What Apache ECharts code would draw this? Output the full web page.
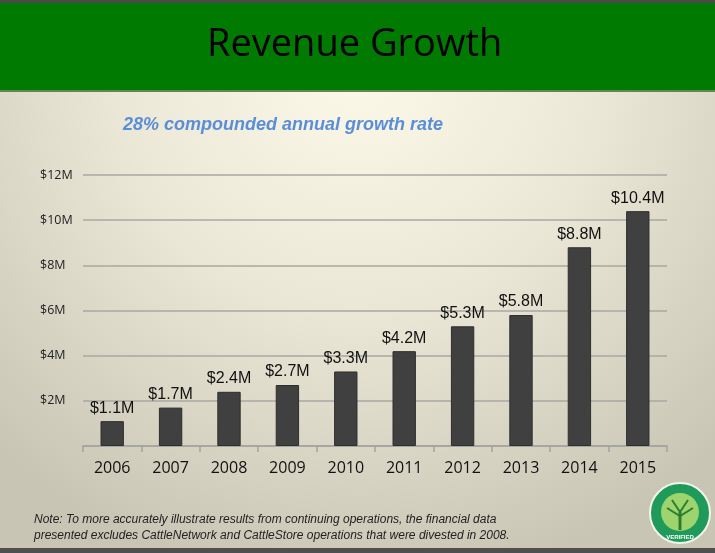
<!DOCTYPE html>
<html>
<head>
<meta charset="utf-8">
<script src="https://cdn.jsdelivr.net/npm/echarts@6/dist/echarts.min.js"></script>
<style>html,body{margin:0;padding:0;background:#fff}#c{width:715px;height:553px}</style>
</head>
<body>
<div id="c"></div>
<script>
const years = ['2006','2007','2008','2009','2010','2011','2012','2013','2014','2015'];
const revenue = [1.1, 1.7, 2.4, 2.7, 3.3, 4.2, 5.3, 5.8, 8.8, 10.4];
const valueLabels = ['$1.1M','$1.7M','$2.4M','$2.7M','$3.3M','$4.2M','$5.3M','$5.8M','$8.8M','$10.4M'];
const yTicks = [0, 2, 4, 6, 8, 10, 12];
const titleText = 'Revenue Growth';
const subtitleText = '28% compounded annual growth rate';
const noteText = 'Note: To more accurately illustrate results from continuing operations, the financial data\npresented excludes CattleNetwork and CattleStore operations that were divested in 2008.';

const chart = echarts.init(document.getElementById('c'), null, {renderer: 'canvas'});
chart.setOption({
  animation: false,
  backgroundColor: '#fff',
  title: [
    {text: titleText, left: 202, top: 21,
     textStyle: {fontFamily: 'Open Sans', fontSize: 38, fontWeight: 'normal', color: '#000'}},
    {text: subtitleText, left: 118, top: 111,
     textStyle: {fontFamily: 'Liberation Sans', fontSize: 18, fontWeight: 'bold', fontStyle: 'italic', color: '#5A8ED9'}}
  ],
  graphic: [
    {type: 'rect', z: -10, silent: true, shape: {x: 0, y: 0, width: 715, height: 553},
     style: {fill: {type: 'radial', x: 0.5, y: 0.12, r: 0.95,
       colorStops: [{offset: 0, color: '#FCF9E9'}, {offset: 0.45, color: '#EBE8D8'}, {offset: 1, color: '#C8C5B5'}]}}},
    {type: 'rect', z: -5, silent: true, shape: {x: 0, y: 0, width: 715, height: 3}, style: {fill: '#4A4A4A'}},
    {type: 'rect', z: -5, silent: true, shape: {x: 0, y: 3, width: 715, height: 87}, style: {fill: '#007A00'}},
    {type: 'rect', z: -5, silent: true, shape: {x: 0, y: 90, width: 715, height: 2}, style: {fill: '#5E8A4E'}},
    {type: 'rect', z: -5, silent: true, shape: {x: 0, y: 548, width: 715, height: 5}, style: {fill: '#4F4F4F'}},
    {type: 'text', left: 34, top: 512, silent: true,
     style: {text: noteText, fontFamily: 'Liberation Sans', fontSize: 12, fontStyle: 'italic', fill: '#222', lineHeight: 16}},
    {type: 'circle', silent: true, shape: {cx: 680, cy: 513, r: 30},
     style: {fill: '#1F9A5A', stroke: '#F2F5EC', lineWidth: 2}},
    {type: 'circle', silent: true, shape: {cx: 680, cy: 512, r: 19},
     style: {fill: '#9DD46E'}},
    {type: 'rect', silent: true, shape: {x: 678.5, y: 512, width: 3, height: 18}, style: {fill: '#2E7D2E'}},
    {type: 'polyline', silent: true, shape: {points: [[672, 500], [680, 512], [688, 500]]},
     style: {stroke: '#2E7D2E', lineWidth: 2, fill: null}},
    {type: 'polyline', silent: true, shape: {points: [[667, 508], [680, 516], [693, 508]]},
     style: {stroke: '#2E7D2E', lineWidth: 2, fill: null}},
    {type: 'text', silent: true, x: 680, y: 537,
     style: {text: 'VERIFIED', fontFamily: 'Liberation Sans', fontSize: 6, fontWeight: 'bold', fill: '#fff', align: 'center', verticalAlign: 'middle'}}
  ],
  grid: {left: 83, right: 48, top: 175, bottom: 107, containLabel: false},
  xAxis: {
    type: 'category', data: years,
    axisLine: {lineStyle: {color: '#A3A3A0', width: 1.5}},
    axisTick: {show: true, length: 6, lineStyle: {color: '#A3A3A0', width: 1.5}},
    axisLabel: {margin: 14, fontFamily: 'Open Sans', fontSize: 16, color: '#111'}
  },
  yAxis: {
    type: 'value', min: yTicks[0], max: yTicks[yTicks.length - 1], interval: 2,
    axisLine: {show: false}, axisTick: {show: false},
    splitLine: {lineStyle: {color: '#A8A7A2', width: 1.5}},
    axisLabel: {margin: 43, align: 'left', padding: [0, 0, 8, 0],
      fontFamily: 'Open Sans', fontSize: 12.5, color: '#222',
      formatter: v => v === 0 ? '' : '$' + v + 'M'}
  },
  series: [{
    type: 'bar', data: revenue, barWidth: '40%',
    itemStyle: {color: '#404040', borderColor: '#2E2E2E', borderWidth: 1},
    label: {show: true, position: 'top', distance: 5,
      fontFamily: 'Liberation Sans', fontSize: 16, color: '#111',
      formatter: p => valueLabels[p.dataIndex]}
  }]
});
</script>
</body>
</html>
